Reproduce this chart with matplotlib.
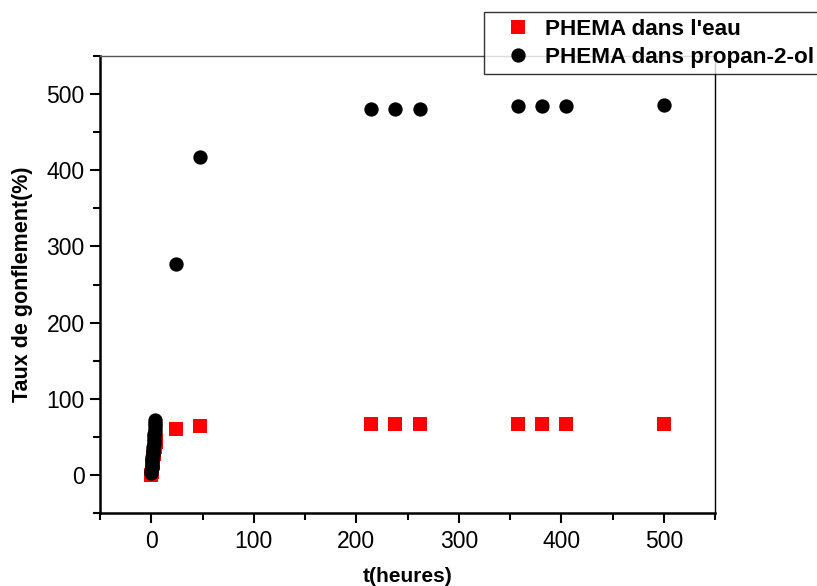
import matplotlib
matplotlib.use("Agg")
import matplotlib.pyplot as plt
from matplotlib.ticker import MultipleLocator

# Données
t_eau = [0, 0.25, 0.5, 0.75, 1, 1.25, 1.5, 2, 2.5, 3, 3.5, 4, 4.5, 5,
         24, 48, 214, 238, 262, 358, 381, 405, 500]
gonf_eau = [0, 4, 7, 10, 13, 16, 19, 24, 28, 32, 36, 39, 43, 46,
            60, 64, 67, 67, 67, 67, 67, 67, 67]

t_prop = [0, 0.2, 0.4, 0.6, 0.8, 1, 1.2, 1.4, 1.6, 1.8, 2, 2.2, 2.4, 2.6, 2.8,
          3, 3.2, 3.4, 3.6, 3.8, 4, 24, 48, 214, 238, 262, 358, 381, 405, 500]
gonf_prop = [2, 5, 9, 12, 16, 19, 23, 26, 30, 33, 37, 40, 44, 47, 51,
             54, 58, 61, 65, 68, 72, 277, 418, 480, 481, 481, 484, 484, 484, 486]

label_eau = "PHEMA dans l'eau"
label_prop = "PHEMA dans propan-2-ol"

plt.rcParams['font.family'] = ['Liberation Sans', 'DejaVu Sans']

fig = plt.figure(figsize=(8.17, 5.86), dpi=100)
ax = fig.add_axes([100 / 817, 1 - 513 / 586, 615 / 817, 457 / 586])

ax.plot(t_eau, gonf_eau, linestyle="none", marker="s", markersize=9.6,
        color="#ff0000", markeredgewidth=0, label=label_eau)
ax.plot(t_prop, gonf_prop, linestyle="none", marker="o", markersize=10.3,
        color="black", markeredgewidth=0, label=label_prop)

ax.set_xlim(-50, 550)
ax.set_ylim(-50, 550)
ax.xaxis.set_major_locator(MultipleLocator(100))
ax.xaxis.set_minor_locator(MultipleLocator(50))
ax.yaxis.set_major_locator(MultipleLocator(100))
ax.yaxis.set_minor_locator(MultipleLocator(50))

ax.tick_params(which="major", direction="out", length=7, width=1.5, labelsize=16.5, pad=4)
ax.tick_params(which="minor", direction="out", length=5, width=1.5)
ax.tick_params(top=False, right=False, which="both")
ax.tick_params(axis="x", pad=5)

ax.spines["left"].set_linewidth(1.8)
ax.spines["bottom"].set_linewidth(1.8)
ax.spines["top"].set_linewidth(1.0)
ax.spines["top"].set_color("#555555")
ax.spines["right"].set_linewidth(1.0)

ax.set_xlabel("t(heures)", fontsize=15, fontweight="bold", labelpad=10)
ax.set_ylabel("Taux de gonflement(%)", fontsize=15.5, fontweight="bold", labelpad=10)

leg = fig.legend(loc="upper left", bbox_to_anchor=(484 / 817, 1 - 12 / 586),
                 prop={"size": 16.2, "weight": "bold"}, frameon=True, fancybox=False,
                 numpoints=1, borderpad=0.3, handlelength=2.4, handletextpad=0.0,
                 labelspacing=0.3, borderaxespad=0)
leg.get_frame().set_edgecolor("black")
leg.get_frame().set_linewidth(1.0)

fig.savefig("out.png", dpi=100)
